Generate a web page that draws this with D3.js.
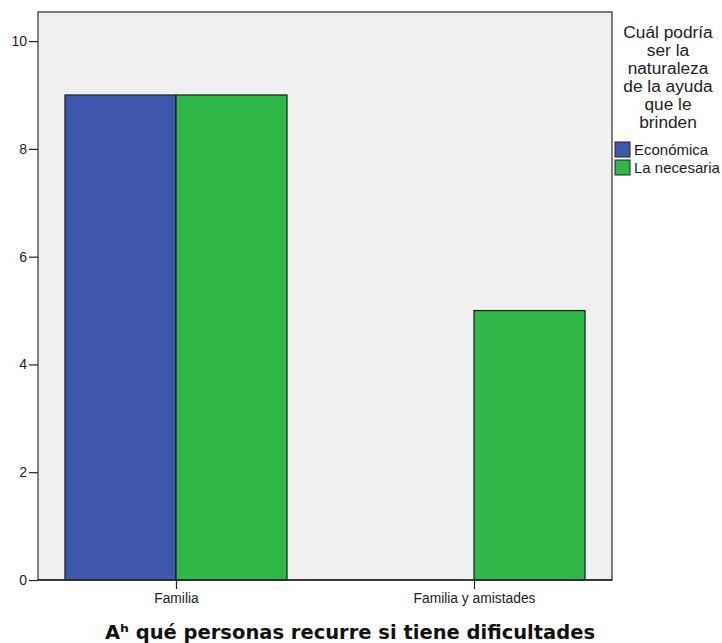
<!DOCTYPE html>
<html>
<head>
<meta charset="utf-8">
<script src="https://cdn.jsdelivr.net/npm/d3@7"></script>
<style>
  html, body { margin: 0; padding: 0; background: #ffffff; }
  svg { display: block; }
</style>
</head>
<body>
<script>
// ---- data ----
const categories = ["Familia", "Familia y amistades"];
const seriesNames = ["Económica", "La necesaria"];
const economica = [9, 0];
const necesaria = [9, 5];
const yTicks = [0, 2, 4, 6, 8, 10];
const xTitle = "A\u02B0 qué personas recurre si tiene dificultades";
const legendTitle = ["Cuál podría", "ser la", "naturaleza", "de la ayuda", "que le", "brinden"];
const colors = ["#3E58AC", "#2EB848"];

// ---- layout ----
const W = 722, H = 643;
const plot = { left: 38, right: 612, top: 12, bottom: 580 };

const svg = d3.select("body").append("svg").attr("width", W).attr("height", H);

const x = d3.scalePoint().domain(categories).range([plot.left, plot.right]).padding(0.463);
const groupW = x.step() * 0.745;
const xs = d3.scaleBand().domain(seriesNames).range([-groupW / 2, groupW / 2]);
const y = d3.scaleLinear().domain([0, 10.54]).range([plot.bottom, plot.top]);

// background
svg.append("rect")
  .attr("x", plot.left).attr("y", plot.top)
  .attr("width", plot.right - plot.left).attr("height", plot.bottom - plot.top)
  .attr("fill", "#F0F0F0");

// bars
const seriesData = [economica, necesaria];
seriesNames.forEach((s, si) => {
  const rows = categories.map((c, ci) => ({ c, v: seriesData[si][ci] })).filter(d => d.v > 0);
  svg.append("g").selectAll("rect").data(rows).join("rect")
    .attr("x", d => x(d.c) + xs(s))
    .attr("y", d => y(d.v))
    .attr("width", xs.bandwidth())
    .attr("height", d => y(0) - y(d.v))
    .attr("fill", colors[si])
    .attr("stroke", "#1a1a1a")
    .attr("stroke-width", 1.2);
});

// frame
svg.append("rect")
  .attr("x", plot.left).attr("y", plot.top)
  .attr("width", plot.right - plot.left).attr("height", plot.bottom - plot.top)
  .attr("fill", "none").attr("stroke", "#555").attr("stroke-width", 1.5);

// y axis
const yAxis = svg.append("g").attr("transform", `translate(${plot.left},0)`)
  .call(d3.axisLeft(y).tickValues(yTicks).tickSize(9).tickPadding(2).tickFormat(d3.format("d")));
yAxis.select(".domain").remove();
yAxis.selectAll("line").attr("stroke", "#222").attr("stroke-width", 1.2);
yAxis.selectAll("text").attr("font-family", "Liberation Sans, Arial, sans-serif").attr("font-size", 14).attr("fill", "#222");

// x axis
const xAxis = svg.append("g").attr("transform", `translate(0,${plot.bottom})`)
  .call(d3.axisBottom(x).tickSize(9).tickPadding(4));
xAxis.select(".domain").attr("stroke", "#222").attr("stroke-width", 1.5)
  .attr("d", `M${plot.left},0H${plot.right}`);
xAxis.selectAll("line").attr("stroke", "#222").attr("stroke-width", 1.2);
xAxis.selectAll("text").attr("font-family", "Liberation Sans, Arial, sans-serif").attr("font-size", 13.8).attr("fill", "#222");

// x title
svg.append("text")
  .attr("x", 350).attr("y", 639)
  .attr("text-anchor", "middle")
  .attr("font-family", "DejaVu Sans, Verdana, sans-serif")
  .attr("font-weight", "bold")
  .attr("font-size", 19.5)
  .attr("fill", "#111")
  .text(xTitle);

// legend
const lg = svg.append("g");
lg.selectAll("text.lt").data(legendTitle).join("text")
  .attr("class", "lt")
  .attr("x", 668).attr("y", (d, i) => 37.5 + i * 18.1)
  .attr("text-anchor", "middle")
  .attr("font-family", "Liberation Sans, Arial, sans-serif")
  .attr("font-size", 17.3)
  .attr("fill", "#222")
  .text(d => d);

const items = lg.selectAll("g.item").data(seriesNames).join("g")
  .attr("class", "item")
  .attr("transform", (d, i) => `translate(615,${142 + i * 18})`);
items.append("rect").attr("width", 15).attr("height", 15)
  .attr("fill", (d, i) => colors[i]).attr("stroke", "#222").attr("stroke-width", 1);
items.append("text").attr("x", 19).attr("y", 13)
  .attr("font-family", "Liberation Sans, Arial, sans-serif")
  .attr("font-size", 15)
  .attr("fill", "#222")
  .text(d => d);
</script>
</body>
</html>
